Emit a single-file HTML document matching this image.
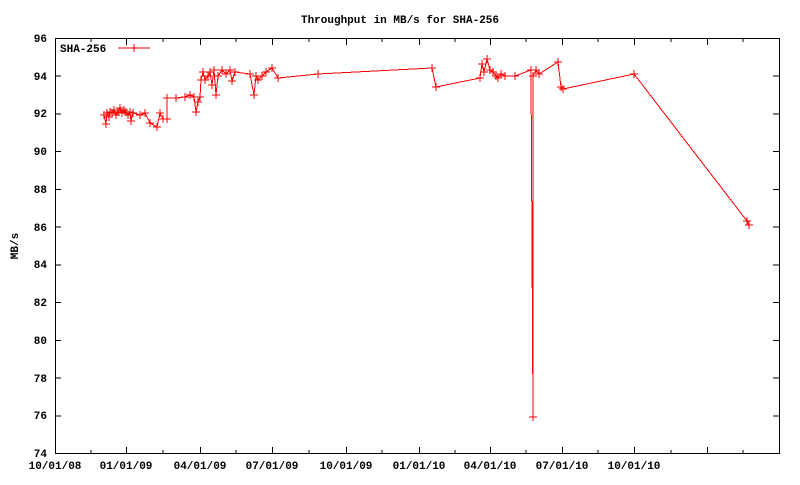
<!DOCTYPE html>
<html><head><meta charset="utf-8"><style>
body{margin:0;background:#fff}
svg text{font-family:"Liberation Mono",monospace;font-size:11px;font-weight:bold;fill:#000}
</style></head><body>
<svg width="800" height="480" xmlns="http://www.w3.org/2000/svg" shape-rendering="crispEdges">
<defs><path id="c" d="M-4 0H4M0 -4V4" stroke="#f00" stroke-width="1" fill="none"/></defs>
<text x="400" y="23" text-anchor="middle">Throughput in MB/s for SHA-256</text>
<text transform="translate(18,246) rotate(-90)" text-anchor="middle">MB/s</text>
<rect x="55.5" y="38.5" width="724" height="415" fill="none" stroke="#000"/>
<g stroke="#000">
<path d="M55 453.5h6M779 453.5h-6M55 415.8h6M779 415.8h-6M55 378h6M779 378h-6M55 340.3h6M779 340.3h-6M55 302.5h6M779 302.5h-6M55 264.8h6M779 264.8h-6M55 227h6M779 227h-6M55 189.3h6M779 189.3h-6M55 151.5h6M779 151.5h-6M55 113.8h6M779 113.8h-6M55 76h6M779 76h-6M55 38.5h6M779 38.5h-6"/>
<path d="M126.5 453v-6M200.5 453v-6M272.5 453v-6M346.5 453v-6M419.5 453v-6M490.5 453v-6M562.5 453v-6M634.5 453v-6M707.5 453v-6M126.5 39v6M200.5 39v6M272.5 39v6M346.5 39v6M419.5 39v6M490.5 39v6M562.5 39v6M634.5 39v6M707.5 39v6"/>
<path d="M91 453v-3M163 453v-3M236 453v-3M309 453v-3M382 453v-3M455 453v-3M526 453v-3M598 453v-3M671 453v-3M743 453v-3M91 39v3M163 39v3M236 39v3M309 39v3M382 39v3M455 39v3M526 39v3M598 39v3M671 39v3M743 39v3"/>
</g>
<g text-anchor="end">
<text x="47" y="457">74</text><text x="47" y="419">76</text><text x="47" y="382">78</text><text x="47" y="344">80</text><text x="47" y="306">82</text><text x="47" y="268">84</text><text x="47" y="231">86</text><text x="47" y="193">88</text><text x="47" y="155">90</text><text x="47" y="117">92</text><text x="47" y="80">94</text><text x="47" y="42">96</text>
</g>
<g text-anchor="middle">
<text x="55" y="469">10/01/08</text><text x="126" y="469">01/01/09</text><text x="200" y="469">04/01/09</text><text x="272" y="469">07/01/09</text><text x="346" y="469">10/01/09</text><text x="419" y="469">01/01/10</text><text x="490" y="469">04/01/10</text><text x="562" y="469">07/01/10</text><text x="634" y="469">10/01/10</text>
</g>
<text x="60" y="52">SHA-256</text>
<path d="M118 48H150" stroke="#f00"/><use href="#c" x="134" y="48"/>
<polyline fill="none" stroke="#f00" stroke-width="1" points="104,115 106,124 107,113 109,117 110,112 112,113 114,110 116,115 118,112 120,108 122,113 124,110 126,112 128,115 130,112 131,121 133,113 140,115 145,113 150,123 157,127 160,113 163,119 167,119 167,98 176,98 185,97 190,95 194,97 196,112 198,102 200,97 201,80 203,72 205,80 208,76 210,72 212,85 214,70 216,95 218,76 222,70 226,74 230,70 232,81 235,72 250,74 254,95 256,76 258,80 262,76 266,72 272,68 278,78 318,74 432,68 436,87 480,78 482,64 484,72 487,59 490,70 493,72 496,76 498,78 501,74 505,76 515,76 531,70 533,417 533,76 536,70 539,74 558,62 561,87 563,89 634,74 747,221 749,225"/>
<g>
<use href="#c" x="104" y="115"/><use href="#c" x="106" y="124"/><use href="#c" x="107" y="113"/><use href="#c" x="109" y="117"/><use href="#c" x="110" y="112"/><use href="#c" x="112" y="113"/><use href="#c" x="114" y="110"/><use href="#c" x="116" y="115"/><use href="#c" x="118" y="112"/><use href="#c" x="120" y="108"/><use href="#c" x="122" y="113"/><use href="#c" x="124" y="110"/><use href="#c" x="126" y="112"/><use href="#c" x="128" y="115"/><use href="#c" x="130" y="112"/><use href="#c" x="131" y="121"/><use href="#c" x="133" y="113"/><use href="#c" x="140" y="115"/><use href="#c" x="145" y="113"/><use href="#c" x="150" y="123"/><use href="#c" x="157" y="127"/><use href="#c" x="160" y="113"/><use href="#c" x="163" y="119"/><use href="#c" x="167" y="119"/><use href="#c" x="167" y="98"/><use href="#c" x="176" y="98"/><use href="#c" x="185" y="97"/><use href="#c" x="190" y="95"/><use href="#c" x="194" y="97"/><use href="#c" x="196" y="112"/><use href="#c" x="198" y="102"/><use href="#c" x="200" y="97"/><use href="#c" x="201" y="80"/><use href="#c" x="203" y="72"/><use href="#c" x="205" y="80"/><use href="#c" x="208" y="76"/><use href="#c" x="210" y="72"/><use href="#c" x="212" y="85"/><use href="#c" x="214" y="70"/><use href="#c" x="216" y="95"/><use href="#c" x="218" y="76"/><use href="#c" x="222" y="70"/><use href="#c" x="226" y="74"/><use href="#c" x="230" y="70"/><use href="#c" x="232" y="81"/><use href="#c" x="235" y="72"/><use href="#c" x="250" y="74"/><use href="#c" x="254" y="95"/><use href="#c" x="256" y="76"/><use href="#c" x="258" y="80"/><use href="#c" x="262" y="76"/><use href="#c" x="266" y="72"/><use href="#c" x="272" y="68"/><use href="#c" x="278" y="78"/><use href="#c" x="318" y="74"/><use href="#c" x="432" y="68"/><use href="#c" x="436" y="87"/><use href="#c" x="480" y="78"/><use href="#c" x="482" y="64"/><use href="#c" x="484" y="72"/><use href="#c" x="487" y="59"/><use href="#c" x="490" y="70"/><use href="#c" x="493" y="72"/><use href="#c" x="496" y="76"/><use href="#c" x="498" y="78"/><use href="#c" x="501" y="74"/><use href="#c" x="505" y="76"/><use href="#c" x="515" y="76"/><use href="#c" x="531" y="70"/><use href="#c" x="533" y="417"/><use href="#c" x="533" y="76"/><use href="#c" x="536" y="70"/><use href="#c" x="539" y="74"/><use href="#c" x="558" y="62"/><use href="#c" x="561" y="87"/><use href="#c" x="563" y="89"/><use href="#c" x="634" y="74"/><use href="#c" x="747" y="221"/><use href="#c" x="749" y="225"/>
</g>
</svg>
</body></html>
